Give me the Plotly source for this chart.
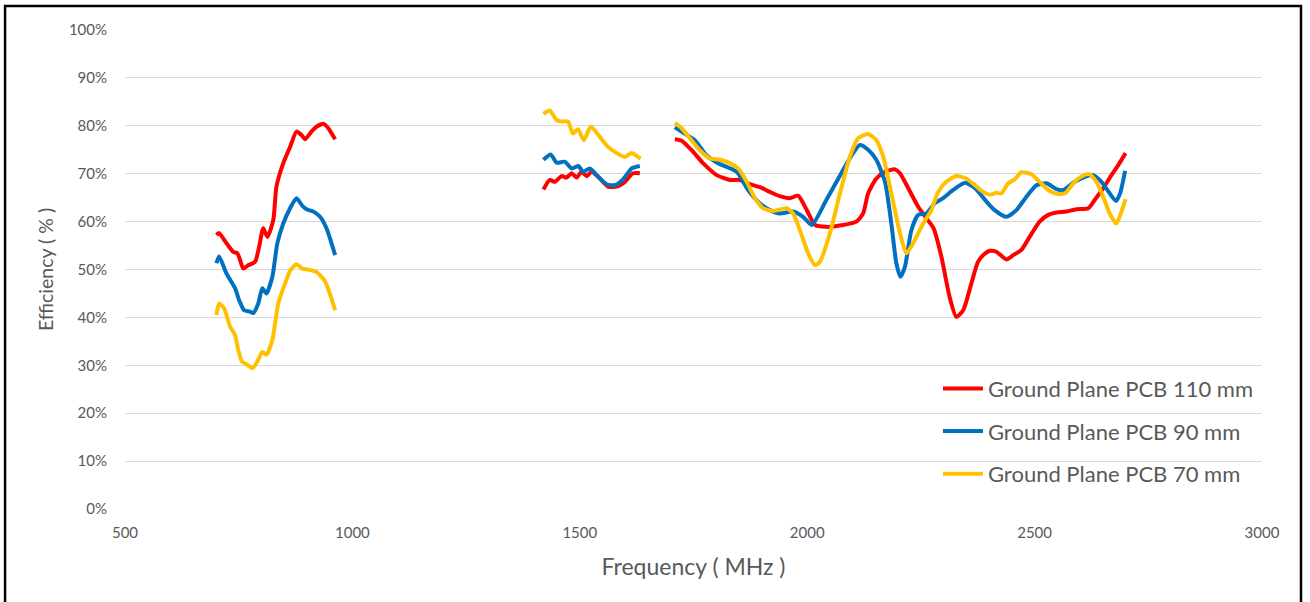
import plotly.graph_objects as go

# ---- data (Frequency MHz, Efficiency %) ; None separates measurement bands ----
freq_110 = [701, 707, 723, 738, 747, 753, 760, 771, 786, 795, 804, 813, 826, 833, 848, 863, 877, 888, 896, 910, 921, 937, 947, 962,
            None,
            1420, 1434, 1445, 1460, 1471, 1482, 1493, 1504, 1515, 1526, 1544, 1562, 1581, 1599, 1617, 1632,
            None,
            1709, 1724, 1746, 1771, 1801, 1830, 1852, 1874, 1896, 1918, 1940, 1962, 1980, 1999, 2017, 2042, 2079, 2108, 2123,
            2134, 2152, 2171, 2193, 2204, 2222, 2244, 2262, 2278, 2295, 2313, 2328, 2343, 2361, 2375, 2387, 2402, 2416, 2438,
            2453, 2471, 2489, 2511, 2530, 2548, 2570, 2592, 2618, 2632, 2651, 2669, 2684, 2700]
eff_110 = [57.2, 57.6, 55.5, 53.7, 53.4, 52.0, 50.2, 50.9, 51.6, 54.8, 58.6, 56.8, 60.3, 67.3, 72.2, 75.6, 78.8, 78.1, 77.2, 78.8, 79.8, 80.4, 79.5, 77.2,
           None,
           66.7, 68.7, 68.3, 69.5, 69.2, 70.1, 69.2, 70.4, 69.5, 70.4, 69.0, 67.3, 67.3, 68.3, 70.1, 70.1,
           None,
           77.2, 76.9, 74.9, 72.2, 69.7, 68.7, 68.7, 67.8, 67.2, 66.2, 65.3, 64.9, 65.4, 62.4, 59.3, 58.9, 59.3, 60.0, 61.7,
           65.9, 69.0, 70.4, 70.9, 70.1, 67.0, 63.1, 60.7, 58.6, 52.7, 44.3, 40.1, 41.5, 47.1, 51.5, 53.0, 53.9, 53.7, 52.1,
           53.0, 54.1, 56.8, 60.0, 61.4, 61.9, 62.1, 62.6, 62.8, 64.5, 67.0, 69.7, 71.8, 74.3]

freq_90 = [701, 707, 723, 742, 751, 762, 775, 782, 793, 802, 811, 824, 835, 848, 863, 877, 890, 899, 914, 929, 943, 962,
           None,
           1420, 1436, 1449, 1467, 1482, 1497, 1507, 1522, 1540, 1559, 1577, 1595, 1614, 1632,
           None,
           1709, 1735, 1753, 1778, 1804, 1845, 1870, 1896, 1918, 1940, 1969, 1991, 2010, 2042, 2075, 2098, 2116, 2134, 2152,
           2171, 2185, 2196, 2205, 2215, 2229, 2244, 2262, 2280, 2299, 2321, 2347, 2369, 2380, 2394, 2412, 2438, 2460, 2482,
           2504, 2526, 2548, 2563, 2585, 2607, 2629, 2647, 2665, 2679, 2688, 2699]
eff_90 = [51.3, 52.7, 49.2, 46.1, 43.6, 41.5, 41.2, 40.9, 42.9, 46.1, 45.0, 48.5, 55.5, 59.6, 62.8, 64.9, 63.3, 62.6, 62.1, 61.0, 58.6, 53.0,
          None,
          72.9, 74.0, 72.3, 72.5, 71.1, 71.6, 70.4, 71.1, 69.4, 67.8, 67.6, 68.8, 71.1, 71.6,
          None,
          79.7, 78.1, 77.0, 73.9, 72.2, 70.4, 66.6, 63.8, 62.4, 61.7, 62.1, 61.0, 59.3, 64.5, 70.1, 73.9, 76.0, 75.0, 72.9,
          68.3, 59.6, 51.3, 48.5, 50.6, 58.2, 61.4, 61.7, 63.8, 64.9, 66.6, 68.1, 67.0, 65.8, 64.2, 62.4, 61.0, 62.4, 65.2,
          67.6, 68.0, 66.8, 66.6, 68.1, 69.2, 69.7, 68.3, 65.9, 64.3, 65.9, 70.6]

freq_70 = [701, 707, 718, 731, 742, 749, 757, 769, 781, 791, 802, 811, 824, 837, 852, 864, 877, 890, 903, 921, 940, 962,
           None,
           1420, 1434, 1449, 1460, 1474, 1485, 1496, 1509, 1524, 1544, 1562, 1581, 1599, 1614, 1628, 1634,
           None,
           1709, 1724, 1742, 1764, 1786, 1808, 1830, 1848, 1867, 1885, 1903, 1925, 1955, 1969, 1984, 2002, 2017, 2028, 2050,
           2072, 2094, 2112, 2134, 2152, 2167, 2185, 2204, 2218, 2233, 2255, 2273, 2288, 2306, 2328, 2350, 2369, 2385, 2402,
           2416, 2427, 2442, 2456, 2471, 2493, 2511, 2530, 2548, 2567, 2585, 2603, 2620, 2636, 2651, 2665, 2680, 2691, 2700]
eff_70 = [40.5, 42.9, 41.9, 38.1, 36.3, 33.2, 30.8, 30.1, 29.4, 30.8, 32.8, 32.2, 35.3, 42.9, 47.1, 49.9, 51.1, 50.2, 50.0, 49.5, 47.5, 41.5,
          None,
          82.5, 83.2, 81.2, 80.9, 80.9, 78.4, 79.3, 77.0, 79.8, 77.7, 75.6, 74.3, 73.5, 74.3, 73.5, 73.2,
          None,
          80.6, 79.5, 77.4, 74.9, 73.2, 72.9, 72.2, 71.1, 68.3, 64.9, 62.8, 62.2, 62.8, 61.7, 58.2, 53.4, 50.9, 51.6, 57.6,
          65.9, 73.6, 77.4, 78.3, 77.0, 73.6, 65.9, 57.6, 53.4, 55.5, 59.6, 62.4, 66.2, 68.3, 69.5, 69.0, 67.6, 66.3, 65.6,
          66.0, 65.9, 68.0, 68.8, 70.3, 69.9, 68.3, 66.6, 65.8, 65.9, 68.0, 69.4, 69.9, 68.3, 65.2, 61.7, 59.6, 62.1, 64.7]

series_names = ["Ground Plane PCB 110 mm", "Ground Plane PCB 90 mm", "Ground Plane PCB 70 mm"]
series_colors = ["#FF0000", "#0070C0", "#FFC000"]
x_ticks = [500, 1000, 1500, 2000, 2500, 3000]
y_ticks = [0, 10, 20, 30, 40, 50, 60, 70, 80, 90, 100]

FONT = "Lato"
GRAY = "#595959"

fig = go.Figure()
for i, (fx, ey) in enumerate([(freq_110, eff_110), (freq_90, eff_90), (freq_70, eff_70)]):
    fig.add_trace(go.Scatter(
        x=fx, y=ey, mode="lines", name=series_names[i],
        legendgroup=f"g{i}",
        line=dict(color=series_colors[i], width=4, shape="spline", smoothing=0.6),
        connectgaps=False,
    ))

fig.update_layout(
    width=1310, height=602,
    margin=dict(l=125, r=48, t=30, b=93),
    paper_bgcolor="white", plot_bgcolor="white",
    font=dict(family=FONT, color=GRAY),
    showlegend=True,
    legend=dict(
        x=0.715, y=0.295, xanchor="left", yanchor="top",
        font=dict(family=FONT, size=22, color=GRAY),
        bgcolor="rgba(255,255,255,0)",
        traceorder="grouped", tracegroupgap=11,
        itemwidth=40,
    ),
    xaxis=dict(
        range=[500, 3000], tickvals=x_ticks, ticktext=[str(v) for v in x_ticks],
        showgrid=False, zeroline=False, showline=False,
        tickfont=dict(family=FONT, size=15, color=GRAY),
        ticklabelstandoff=13,
        title=dict(text="Frequency ( MHz )", font=dict(family=FONT, size=23, color=GRAY), standoff=18),
    ),
    yaxis=dict(
        range=[0, 100], tickvals=y_ticks, ticktext=[f"{v}%" for v in y_ticks],
        showgrid=True, gridcolor="#D9D9D9", gridwidth=1.3,
        zeroline=False, showline=False,
        tickfont=dict(family=FONT, size=15, color=GRAY),
        ticklabelstandoff=17,
        title=dict(text="Efficiency ( % )", font=dict(family=FONT, size=19.5, color=GRAY), standoff=10),
    ),
    shapes=[dict(
        type="rect", xref="paper", yref="paper",
        x0=-0.1055, x1=1.0343, y0=-0.25, y1=1.0501,
        line=dict(color="black", width=2.5), fillcolor="rgba(0,0,0,0)", layer="above",
    )],
)

fig.write_html("out.html", config={"displayModeBar": False},
               post_script="document.body.style.margin='0px';document.body.style.padding='0px';")
